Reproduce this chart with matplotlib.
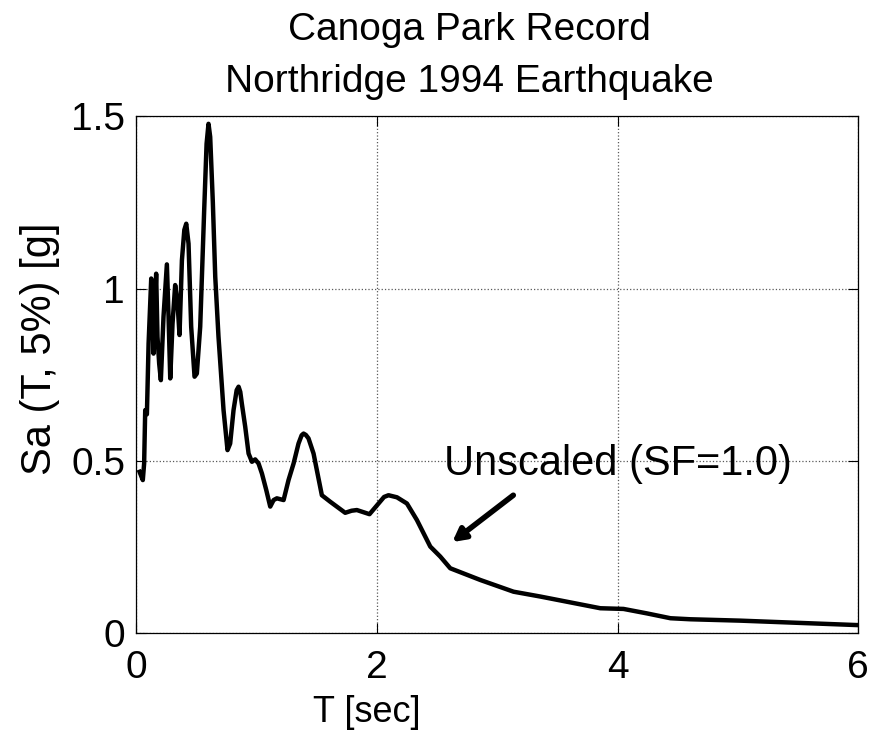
import matplotlib
matplotlib.use("Agg")
import matplotlib.pyplot as plt
import matplotlib.patheffects as pe

plt.rcParams['font.family'] = ['Liberation Sans', 'DejaVu Sans']

# period [sec] and spectral acceleration [g]
T = [0.028, 0.055, 0.066, 0.075, 0.089, 0.103, 0.125, 0.139, 0.144, 0.155,
     0.166, 0.177, 0.191, 0.205, 0.227, 0.255, 0.269, 0.283, 0.302, 0.324,
     0.344, 0.360, 0.380, 0.400, 0.416, 0.435, 0.457, 0.485, 0.504, 0.532,
     0.565, 0.585, 0.601, 0.615, 0.637, 0.657, 0.684, 0.726, 0.759, 0.781,
     0.809, 0.835, 0.851, 0.865, 0.878, 0.906, 0.934, 0.962, 0.989, 1.017,
     1.045, 1.081, 1.114, 1.142, 1.169, 1.225, 1.266, 1.308, 1.349, 1.375,
     1.391, 1.410, 1.432, 1.474, 1.507, 1.543, 1.613, 1.737, 1.790, 1.834,
     1.939, 2.014, 2.060, 2.097, 2.167, 2.250, 2.333, 2.444, 2.527, 2.610,
     2.860, 3.136, 3.358, 3.857, 4.050, 4.245, 4.440, 4.605, 5.020, 6.000]
Sa = [0.468, 0.444, 0.492, 0.647, 0.635, 0.840, 1.029, 0.889, 0.811, 0.937,
      1.043, 0.860, 0.782, 0.734, 0.918, 1.070, 0.918, 0.739, 0.898, 1.010,
      0.956, 0.865, 1.082, 1.170, 1.188, 1.130, 0.889, 0.744, 0.753, 0.889,
      1.227, 1.420, 1.478, 1.440, 1.250, 1.034, 0.860, 0.647, 0.531, 0.550,
      0.647, 0.705, 0.715, 0.700, 0.666, 0.599, 0.521, 0.497, 0.504, 0.492,
      0.463, 0.415, 0.367, 0.386, 0.391, 0.386, 0.444, 0.492, 0.550, 0.574,
      0.579, 0.575, 0.565, 0.521, 0.463, 0.400, 0.381, 0.349, 0.355, 0.357,
      0.345, 0.376, 0.395, 0.400, 0.394, 0.376, 0.328, 0.251, 0.222, 0.188,
      0.154, 0.120, 0.106, 0.072, 0.070, 0.057, 0.043, 0.040, 0.036, 0.023]

xticks = [0, 2, 4, 6]
yticks = [0, 0.5, 1, 1.5]
ytick_labels = ['0', '0.5', '1', '1.5']

fig = plt.figure(figsize=(8.73, 7.31), dpi=100)
ax = fig.add_axes([0.156, 0.134, 0.827, 0.707])

ax.plot(T, Sa, color='k', lw=3.2, solid_joinstyle='round')

ax.set_xlim(0, 6)
ax.set_ylim(0, 1.5)
ax.set_xticks(xticks)
ax.set_yticks(yticks)
ax.set_yticklabels(ytick_labels)
ax.grid(True, ls=':', color='0.35', lw=0.9)
ax.tick_params(direction='in', top=True, right=True, length=7, width=0.8)
ax.tick_params(axis='x', labelsize=28, pad=12)
ax.tick_params(axis='y', labelsize=28, pad=8)
for s in ax.spines.values():
    s.set_linewidth(0.9)

ax.set_xlabel('T [sec]', fontsize=26)
ax.xaxis.set_label_coords(0.319, -0.12)
ax.set_ylabel('Sa (T, 5%) [g]', fontsize=30)
ax.yaxis.set_label_coords(-0.105, 0.55)

fig.text(0.538, 0.984, 'Canoga Park Record\nNorthridge 1994 Earthquake',
         ha='center', va='top', fontsize=28, linespacing=1.58)

ax.text(2.56, 0.458, 'Unscaled (SF=1.0)', fontsize=30, ha='left', va='baseline')
ax.annotate('', xy=(2.627, 0.264), xytext=(3.134, 0.400),
            arrowprops=dict(arrowstyle='-|>,head_length=0.75,head_width=0.4',
                            lw=4, color='k', shrinkA=0, shrinkB=0,
                            path_effects=[pe.SimplePatchShadow(offset=(1.5, -1.5), alpha=0.35),
                                          pe.Normal()]))

fig.savefig('out.png', dpi=100)
